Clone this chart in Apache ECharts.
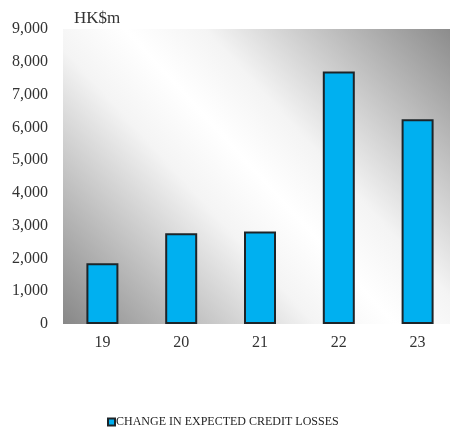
<!DOCTYPE html>
<html>
<head>
<meta charset="utf-8">
<script src="https://cdn.jsdelivr.net/npm/echarts@6/dist/echarts.min.js"></script>
<style>
  html, body { margin: 0; padding: 0; background: #ffffff; overflow: hidden; }
  /* the plot area runs slightly past the right edge of the window */
  #chart { width: 457px; height: 427px; }
</style>
</head>
<body>
<div id="chart"></div>
<script>
// Years (two-digit) and the change in expected credit losses, HK$ millions
const categories = ['19', '20', '21', '22', '23'];
const creditLossChange = [1850, 2770, 2820, 7700, 6250];
const yTicks = { min: 0, max: 9000, step: 1000 };
const seriesName = 'CHANGE IN EXPECTED CREDIT LOSSES';
const unitLabel = 'HK$m';

const serif = 'Liberation Serif, Times New Roman, serif';
const chart = echarts.init(document.getElementById('chart'), null, { renderer: 'canvas' });

// Diagonal grey-white-grey sheen across the plot area (pixel coordinates)
const sheen = new echarts.graphic.LinearGradient(79, 342, 441, 11, [
  { offset: 0, color: '#878787' },
  { offset: 0.38, color: '#f4f4f4' },
  { offset: 0.5, color: '#ffffff' },
  { offset: 0.62, color: '#f4f4f4' },
  { offset: 1, color: '#898989' }
], true);

chart.setOption({
  animation: false,
  backgroundColor: '#ffffff',
  title: {
    text: unitLabel,
    left: 74,
    top: 10,
    padding: 0,
    textStyle: { fontFamily: serif, fontSize: 17, fontWeight: 'normal', color: '#333333' }
  },
  legend: {
    data: [seriesName],
    left: 107,
    top: 416,
    padding: 0,
    itemWidth: 7,
    itemHeight: 7,
    icon: 'rect',
    textStyle: { fontFamily: serif, fontSize: 12, color: '#222222', padding: [0, 0, 0, -4] }
  },
  grid: {
    left: 63,
    top: 29,
    width: 394,
    height: 295,
    show: true,
    borderWidth: 0,
    backgroundColor: sheen
  },
  xAxis: {
    type: 'category',
    data: categories,
    axisLine: { show: false },
    axisTick: { show: false },
    axisLabel: { margin: 11, fontFamily: serif, fontSize: 16, color: '#333333' }
  },
  yAxis: {
    type: 'value',
    min: yTicks.min,
    max: yTicks.max,
    interval: yTicks.step,
    axisLine: { show: false },
    axisTick: { show: false },
    splitLine: { show: false },
    axisLabel: {
      margin: 15,
      fontFamily: serif,
      fontSize: 16,
      color: '#333333',
      formatter: v => v.toLocaleString('en-US')
    }
  },
  series: [{
    name: seriesName,
    type: 'bar',
    data: creditLossChange,
    barWidth: 32,
    itemStyle: { color: '#00B0F0', borderColor: '#1d2428', borderWidth: 2 }
  }]
});
</script>
</body>
</html>
